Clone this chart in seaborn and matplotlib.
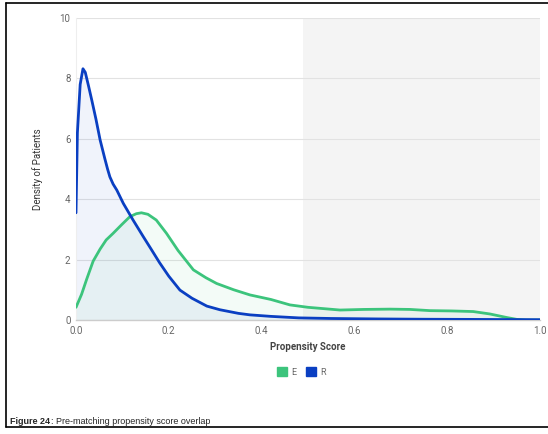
import matplotlib

matplotlib.use("Agg")
import matplotlib.pyplot as plt
import seaborn as sns
import pandas as pd
from matplotlib.patches import Patch
from matplotlib.lines import Line2D

# values
r_x = [0.0, 0.003, 0.009, 0.015, 0.02, 0.027, 0.034, 0.043, 0.052, 0.062,
       0.068, 0.073, 0.08, 0.088, 0.102, 0.123, 0.145, 0.163, 0.18, 0.2,
       0.224, 0.25, 0.282, 0.31, 0.35, 0.375, 0.42, 0.48, 0.55, 0.65, 0.75,
       0.85, 1.0]
r_y = [3.55, 6.2, 7.8, 8.32, 8.2, 7.75, 7.28, 6.65, 5.96, 5.35,
       5.0, 4.74, 4.5, 4.3, 3.86, 3.31, 2.76, 2.32, 1.9, 1.45,
       0.99, 0.72, 0.46, 0.34, 0.22, 0.17, 0.12, 0.07, 0.05, 0.035, 0.025,
       0.02, 0.01]

e_x = [0.0, 0.012, 0.023, 0.037, 0.052, 0.065, 0.08, 0.098, 0.116, 0.13,
       0.141, 0.155, 0.173, 0.195, 0.22, 0.253, 0.28, 0.303,
       0.34, 0.375, 0.42, 0.461, 0.5, 0.569, 0.62, 0.677, 0.72, 0.763, 0.81,
       0.856, 0.892, 0.929, 0.95, 0.97, 1.0]
e_y = [0.42, 0.85, 1.35, 1.95, 2.35, 2.65, 2.87, 3.15, 3.42, 3.52,
       3.55, 3.5, 3.31, 2.87, 2.3, 1.66, 1.4, 1.21,
       1.0, 0.83, 0.68, 0.5, 0.42, 0.33, 0.35, 0.36, 0.35, 0.31, 0.3,
       0.28, 0.2, 0.08, 0.02, 0.0, 0.0]

groups = ["E", "R"]
colors = {"E": "#3cc47c", "R": "#0a3fc2"}
shade_start = 0.49
shade_end = 1.0

df = pd.concat([
    pd.DataFrame({"score": e_x, "density": e_y, "group": "E"}),
    pd.DataFrame({"score": r_x, "density": r_y, "group": "R"}),
])

sns.set_style("white")
plt.rcParams["font.family"] = ["Roboto", "DejaVu Sans"]

fig = plt.figure(figsize=(5.48, 4.34), dpi=100)
ax = fig.add_axes([76 / 548, 1 - 320 / 434, 464 / 548, 302 / 434])

# shaded right half
ax.axvspan(shade_start, shade_end, color="#f4f4f4", zorder=0, lw=0)

ax.fill_between(r_x, r_y, color=colors["R"], alpha=0.06, lw=0, zorder=1)
ax.fill_between(e_x, e_y, color=colors["E"], alpha=0.06, lw=0, zorder=1)

sns.lineplot(data=df, x="score", y="density", hue="group", palette=colors,
             linewidth=2.0, ax=ax, legend=False, zorder=3, sort=False)
for line in ax.get_lines():
    line.set_solid_joinstyle("round")

ax.set_xlim(0, 1)
ax.set_ylim(0, 10)
ax.set_xticks([0, 0.2, 0.4, 0.6, 0.8, 1.0])
ax.set_xticklabels(["0.0", "0.2", "0.4", "0.6", "0.8", "1.0"])
ax.set_yticks([0, 2, 4, 6, 8, 10])
ax.yaxis.grid(True, color="#e2e2e2", lw=0.8)
ax.set_axisbelow(True)
ax.tick_params(axis="both", length=0, labelsize=7, colors="#666666", pad=4)

for side in ["top", "right"]:
    ax.spines[side].set_visible(False)
ax.spines["left"].set_color("#eeeeee")
ax.spines["left"].set_linewidth(0.8)
ax.spines["bottom"].set_color("#cccccc")
ax.spines["bottom"].set_linewidth(1.0)

ax.set_xlabel("Propensity Score", fontsize=7, fontweight="bold",
              color="#444444", labelpad=5)
ax.set_ylabel("Density of Patients", fontsize=7, color="#333333",
              fontstretch="condensed", labelpad=12)

handles = [Patch(facecolor=colors[g], edgecolor=colors[g], label=g) for g in groups]
fig.legend(handles=handles, loc="center", bbox_to_anchor=(0.55, 0.143), ncol=2,
           frameon=False, fontsize=6.5, labelcolor="#666666", handlelength=1.1,
           handleheight=1.1, handletextpad=0.5, columnspacing=1.0)

# page frame and caption
fig.add_artist(Line2D([5.5 / 548, 5.5 / 548], [1 - 3 / 434, 1 - 427 / 434],
                      transform=fig.transFigure, color="black", lw=1.2))
fig.add_artist(Line2D([5.5 / 548, 1.0], [1 - 3 / 434, 1 - 3 / 434],
                      transform=fig.transFigure, color="black", lw=1.2))
fig.add_artist(Line2D([5.5 / 548, 1.0], [1 - 427 / 434, 1 - 427 / 434],
                      transform=fig.transFigure, color="black", lw=1.2))

fig.text(10 / 548, 1 - 421 / 434, "Figure 24", fontsize=6.5, fontweight="bold",
         family=["Liberation Sans", "DejaVu Sans"], va="center")
fig.text(51 / 548, 1 - 421 / 434, ": Pre-matching propensity score overlap",
         fontsize=6.5, family=["Liberation Sans", "DejaVu Sans"], va="center")

fig.savefig("out.png", dpi=100)
